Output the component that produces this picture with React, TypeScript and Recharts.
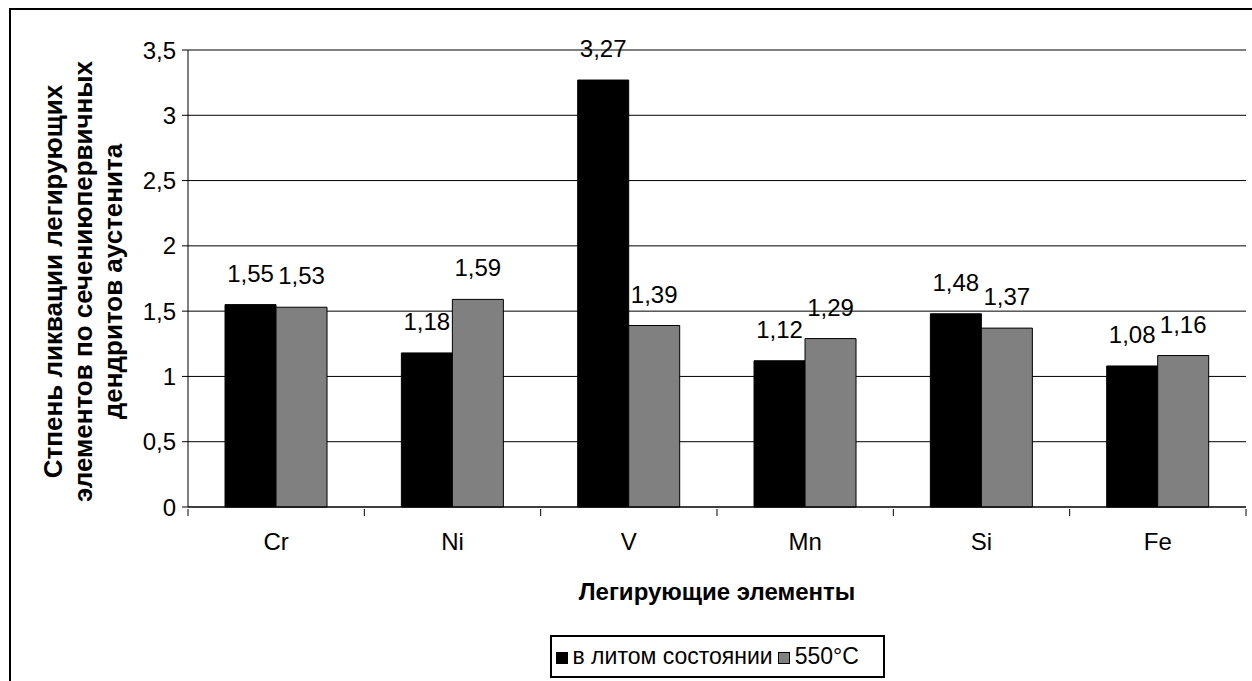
import { Bar, BarChart, CartesianGrid, LabelList, Legend, XAxis, YAxis } from "recharts";

// Степень ликвации по элементам
const elements = ["Cr", "Ni", "V", "Mn", "Si", "Fe"];
const asCast = [1.55, 1.18, 3.27, 1.12, 1.48, 1.08];
const annealed = [1.53, 1.59, 1.39, 1.29, 1.37, 1.16];
const yTicks = [0, 0.5, 1, 1.5, 2, 2.5, 3, 3.5];

const seriesNames = ["в литом состоянии", "550°C"];
const seriesColors = ["#000000", "#808080"];
const yTitle = ["Стпень ликвации легирующих", "элементов по сечениюпервичных", "дендритов аустенита"];
const xTitle = "Легирующие элементы";

const data = elements.map((el, i) => ({ el, cast: asCast[i], t550: annealed[i] }));

const font = "'Liberation Sans', Arial, sans-serif";
const comma = (v: any) => String(v).replace(".", ",");

const CatTick = (props: any) => {
  const { x, y, payload, index, visibleTicksCount, width } = props;
  const half = payload && payload.offset ? payload.offset : width / visibleTicksCount / 2;
  return (
    <g>
      <line x1={x - half} x2={x - half} y1={y} y2={y + 7} stroke="#000" />
      {index === visibleTicksCount - 1 && <line x1={x + half} x2={x + half} y1={y} y2={y + 7} stroke="#000" />}
      <text x={x} y={y + 24} dy="0.71em" textAnchor="middle" fontSize={24} fill="#000" fontFamily={font}>
        {payload.value}
      </text>
    </g>
  );
};

const YTitle = (props: any) => {
  const vb = props.viewBox || { x: 0, y: 40, height: 457 };
  const cy = vb.y + vb.height / 2 + 3;
  return (
    <text transform={`translate(${vb.x + 51}, ${cy}) rotate(-90)`} textAnchor="middle" fontSize={26} fontWeight="bold" fill="#000" fontFamily={font}>
      {yTitle.map((line, i) => (
        <tspan key={i} x={0} y={i * 30}>{line}</tspan>
      ))}
    </text>
  );
};

const XTitle = (props: any) => {
  const vb = props.viewBox || { x: 177, y: 497, width: 1058 };
  return (
    <text x={vb.x + vb.width / 2} y={vb.y + 93} textAnchor="middle" fontSize={24} fontWeight="bold" fill="#000" fontFamily={font}>
      {xTitle}
    </text>
  );
};

const LegendBox = () => (
  <div style={{ display: "flex", justifyContent: "center" }}>
    <div
      style={{
        boxSizing: "border-box",
        width: 335,
        height: 43,
        border: "2px solid #000",
        display: "flex",
        alignItems: "center",
        padding: "0 4px",
        fontFamily: font,
        fontSize: 23,
        color: "#000",
        background: "#fff",
        whiteSpace: "nowrap",
      }}
    >
      {seriesNames.map((name, i) => (
        <span key={name} style={{ display: "flex", alignItems: "center", marginRight: i === 0 ? 5 : 0 }}>
          <span style={{ width: 10, height: 10, background: seriesColors[i], border: "1px solid #000", marginRight: 5, marginTop: 3 }} />
          {name}
        </span>
      ))}
    </div>
  </div>
);

const App = () => {
  return (
    <div
      style={{
        position: "absolute",
        left: 9,
        top: 8,
        width: 1241,
        height: 671,
        borderLeft: "2px solid #000",
        borderTop: "2px solid #000",
        overflow: "hidden",
        background: "#fff",
      }}
    >
      <BarChart
        width={1241}
        height={671}
        data={data}
        margin={{ top: 40, right: 6, left: 0, bottom: 3 }}
        barCategoryGap="21%"
        barGap={0}
        style={{ fontFamily: font }}
      >
        <CartesianGrid vertical={false} stroke="#000" />
        <XAxis
          dataKey="el"
          height={128}
          tickSize={0}
          tickLine={false}
          axisLine={{ stroke: "#000" }}
          tick={<CatTick />}
          interval={0}
          label={{ content: <XTitle /> }}
        />
        <YAxis
          width={177}
          domain={[0, 3.5]}
          ticks={yTicks}
          tickFormatter={comma}
          tickSize={6}
          tickMargin={6}
          axisLine={{ stroke: "#000" }}
          tickLine={{ stroke: "#000" }}
          tick={{ fontSize: 24, fill: "#000", fontFamily: font }}
          label={{ content: <YTitle /> }}
        />
        <YAxis yAxisId="r" orientation="right" width={0} domain={[0, 3.5]} tick={false} tickLine={false} axisLine={{ stroke: "#000" }} />
        <Legend
          verticalAlign="bottom"
          height={43}
          content={<LegendBox />}
          wrapperStyle={{ left: 177, width: 1058 }}
        />
        <Bar dataKey="cast" name={seriesNames[0]} fill={seriesColors[0]} stroke="#000" isAnimationActive={false}>
          <LabelList dataKey="cast" position="top" offset={23} formatter={comma} fontSize={24} fill="#000" fontFamily={font} />
        </Bar>
        <Bar dataKey="t550" name={seriesNames[1]} fill={seriesColors[1]} stroke="#000" isAnimationActive={false}>
          <LabelList dataKey="t550" position="top" offset={23} formatter={comma} fontSize={24} fill="#000" fontFamily={font} />
        </Bar>
      </BarChart>
    </div>
  );
};

export default App;
